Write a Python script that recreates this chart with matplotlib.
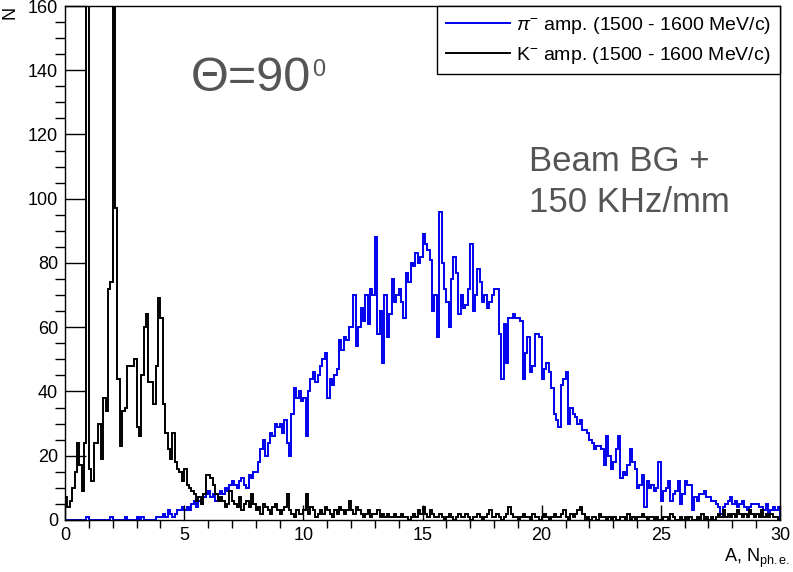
import numpy as np
import matplotlib.pyplot as plt

# histogram of amplitudes, 0.1 wide bins from 0 to 30
x_min, x_max, n_bins = 0, 30, 300

pi_counts = [
    0, 0, 0, 0, 0, 0, 0, 0, 0, 1,
    0, 0, 0, 0, 0, 0, 0, 0, 0, 1,
    0, 0, 0, 0, 0, 1, 0, 0, 0, 0,
    1, 0, 1, 0, 0, 0, 0, 0, 1, 1,
    1, 2, 1, 3, 2, 1, 2, 3, 3, 4,
    3, 4, 3, 5, 6, 4, 6, 5, 7, 8,
    9, 7, 8, 6, 8, 9, 8, 10, 9, 11,
    12, 11, 10, 12, 13, 11, 10, 14, 13, 15,
    15, 18, 22, 25, 20, 24, 27, 26, 30, 29,
    30, 27, 31, 24, 20, 33, 41, 38, 40, 37,
    38, 26, 40, 44, 46, 43, 45, 48, 50, 52,
    38, 44, 42, 45, 47, 56, 53, 57, 56, 60,
    60, 70, 54, 60, 66, 62, 70, 61, 72, 70,
    88, 58, 65, 49, 70, 57, 64, 75, 68, 70,
    72, 68, 63, 77, 74, 80, 79, 83, 80, 82,
    89, 86, 84, 81, 65, 70, 57, 96, 80, 72,
    68, 60, 75, 82, 77, 64, 70, 66, 67, 72,
    86, 65, 70, 78, 74, 68, 70, 66, 68, 70,
    72, 72, 58, 44, 61, 49, 63, 63, 64, 63,
    63, 62, 44, 52, 57, 46, 48, 58, 58, 57,
    44, 47, 49, 46, 41, 33, 31, 29, 42, 44,
    46, 30, 35, 33, 32, 30, 31, 28, 28, 27,
    25, 24, 22, 23, 23, 22, 17, 26, 20, 16,
    18, 22, 26, 13, 15, 14, 17, 22, 18, 16,
    10, 11, 14, 4, 12, 10, 11, 9, 10, 18,
    6, 9, 10, 12, 6, 8, 9, 12, 5, 8,
    12, 11, 11, 3, 7, 6, 8, 8, 9, 7,
    7, 6, 6, 5, 4, 2, 4, 5, 6, 7,
    5, 6, 4, 5, 6, 4, 3, 4, 5, 5,
    5, 4, 4, 3, 5, 2, 3, 4, 3, 4,
]

k_counts = [
    7, 4, 6, 10, 15, 24, 17, 9, 24, 230,
    16, 12, 24, 24, 30, 19, 38, 34, 72, 74,
    250, 97, 44, 23, 34, 35, 48, 48, 48, 50,
    29, 26, 45, 60, 64, 43, 43, 36, 48, 69,
    63, 36, 27, 22, 19, 27, 18, 16, 15, 12,
    16, 11, 10, 9, 8, 6, 7, 5, 8, 14,
    14, 13, 11, 8, 6, 7, 6, 4, 5, 9,
    6, 5, 4, 7, 3, 5, 6, 4, 8, 5,
    3, 4, 2, 5, 4, 3, 2, 4, 5, 3,
    2, 3, 4, 8, 3, 2, 1, 3, 2, 2,
    3, 8, 2, 4, 3, 1, 2, 3, 2, 4,
    3, 2, 1, 3, 2, 4, 3, 2, 3, 6,
    3, 2, 4, 3, 2, 1, 2, 3, 1, 2,
    2, 3, 1, 2, 1, 2, 1, 1, 2, 1,
    1, 2, 1, 1, 0, 1, 2, 1, 3, 2,
    4, 2, 1, 3, 2, 1, 1, 2, 1, 0,
    1, 2, 1, 0, 1, 2, 1, 1, 2, 1,
    0, 1, 1, 2, 1, 0, 1, 2, 3, 1,
    1, 2, 1, 0, 1, 2, 4, 2, 1, 1,
    0, 1, 2, 1, 1, 0, 2, 1, 1, 0,
    1, 2, 1, 0, 1, 2, 1, 1, 2, 3,
    1, 0, 2, 1, 2, 3, 4, 2, 0, 1,
    0, 1, 1, 0, 2, 1, 1, 0, 1, 0,
    1, 0, 0, 1, 1, 0, 2, 0, 1, 0,
    1, 1, 2, 1, 0, 1, 1, 0, 1, 0,
    0, 1, 1, 0, 2, 1, 0, 0, 1, 0,
    1, 0, 1, 0, 0, 1, 0, 2, 0, 1,
    0, 1, 0, 1, 2, 1, 3, 1, 2, 1,
    2, 1, 3, 2, 1, 2, 1, 3, 2, 1,
    2, 1, 3, 1, 2, 1, 2, 1, 1, 0,
]

pi_label = r'$\pi^{-}$ amp. (1500 - 1600 MeV/c)'
k_label = r'K$^{-}$ amp. (1500 - 1600 MeV/c)'

plt.rcParams['font.family'] = ['Liberation Sans', 'DejaVu Sans']
plt.rcParams['mathtext.fontset'] = 'custom'
plt.rcParams['mathtext.rm'] = 'Liberation Sans'
plt.rcParams['mathtext.it'] = 'Liberation Sans:italic'

fig = plt.figure(figsize=(7.93, 5.72), dpi=100)
ax = fig.add_axes([0.082, 0.091, 0.9016, 0.8985])

edges = np.linspace(x_min, x_max, n_bins + 1)
ax.stairs(pi_counts, edges, color='#0000ee', lw=1.4, label=pi_label)
ax.stairs(k_counts, edges, color='black', lw=1.4, label=k_label)

ax.set_xlim(0, 30)
ax.set_ylim(0, 160)
ax.set_xticks(np.arange(0, 31, 5))
ax.set_xticks(np.arange(0, 31, 1), minor=True)
ax.set_yticks(np.arange(0, 161, 20))
ax.set_yticks(np.arange(0, 161, 5), minor=True)
ax.tick_params(axis='both', direction='in', labelsize=13, colors='black', pad=5)
ax.tick_params(axis='y', which='major', length=15, width=1)
ax.tick_params(axis='y', which='minor', length=7.5, width=1)
ax.tick_params(axis='x', which='major', length=10.5, width=1)
ax.tick_params(axis='x', which='minor', length=5.5, width=1)
for s in ax.spines.values():
    s.set_linewidth(1)

leg = ax.legend(loc='upper right', bbox_to_anchor=(1.0, 1.0), fontsize=14,
                frameon=True, fancybox=False, edgecolor='black', framealpha=1,
                handlelength=3.3, handletextpad=0.3, borderaxespad=0,
                borderpad=0.45, labelspacing=0.45)
leg.get_frame().set_linewidth(1)

theta = ax.text(0.176, 0.835, 'Θ=90', transform=ax.transAxes, fontsize=35,
                color='#555555')
ax.annotate('0', xy=(1.0, 0.93), xycoords=theta, xytext=(1, 0),
            textcoords='offset points', ha='left', va='top', fontsize=17,
            color='#555555')
ax.text(0.649, 0.60, 'Beam BG +\n150 KHz/mm', transform=ax.transAxes,
        fontsize=25, color='#555555', linespacing=1.3)

fig.text(0.996, 0.004, r'A, N$_{\rm ph.e.}$', ha='right', va='bottom', fontsize=13)
fig.text(0.012, 0.99, 'N', rotation=90, ha='center', va='top', fontsize=13)

fig.savefig('out.png', dpi=100)
